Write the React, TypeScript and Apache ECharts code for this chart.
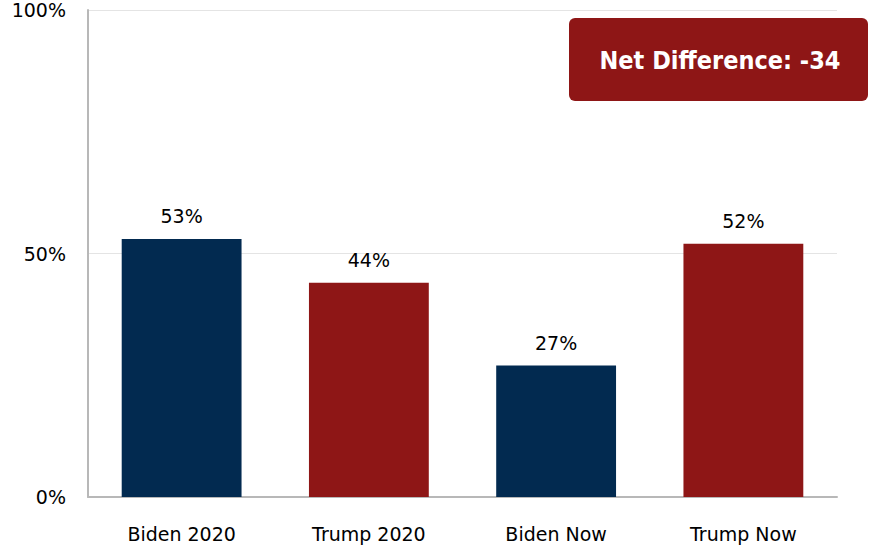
import React, { useEffect, useRef } from "react";
import * as echarts from "echarts";

const categories = ["Biden 2020", "Trump 2020", "Biden Now", "Trump Now"];
const values = [53, 44, 27, 52];
const barColors = ["#022a50", "#8e1616", "#022a50", "#8e1616"];
const yTicks = [0, 50, 100];
const netDifferenceText = "Net Difference: -34";

const FONT = "Tahoma, 'DejaVu Sans', Verdana, sans-serif";
const BOX_FONT = "'DejaVu Sans Condensed', Tahoma, 'DejaVu Sans', sans-serif";

export default function App() {
  const ref = useRef<HTMLDivElement>(null);
  useEffect(() => {
    document.body.style.margin = "0";
    const chart = echarts.init(ref.current!, undefined, { renderer: "svg" });
    chart.setOption({
      animation: false,
      backgroundColor: "#ffffff",
      grid: { left: 88, right: 38, top: 10, bottom: 50, containLabel: false },
      xAxis: {
        type: "category",
        data: categories,
        axisTick: { show: false },
        axisLine: { lineStyle: { color: "#b8b8b8", width: 2 } },
        axisLabel: { color: "#000", fontSize: 19, fontFamily: FONT, margin: 27 },
      },
      yAxis: {
        type: "value",
        min: yTicks[0],
        max: yTicks[yTicks.length - 1],
        interval: 50,
        axisLine: { show: true, lineStyle: { color: "#b8b8b8", width: 2 } },
        axisTick: { show: false },
        axisLabel: {
          color: "#000",
          fontSize: 19,
          fontFamily: FONT,
          margin: 22,
          formatter: "{value}%",
        },
        splitLine: { show: true, lineStyle: { color: "#e4e4e4", width: 1 } },
      },
      series: [
        {
          type: "bar",
          barWidth: "64%",
          data: values.map((v, i) => ({ value: v, itemStyle: { color: barColors[i] } })),
          label: {
            show: true,
            position: "top",
            distance: 13,
            color: "#000",
            fontSize: 19,
            fontFamily: FONT,
            formatter: "{c}%",
          },
        },
      ],
      graphic: [
        {
          type: "rect",
          left: 569,
          top: 18,
          shape: { width: 299, height: 83, r: 6 },
          style: { fill: "#8e1616" },
        },
        {
          type: "text",
          x: 720,
          y: 60,
          style: {
            text: netDifferenceText,
            fill: "#ffffff",
            font: `bold 25px ${BOX_FONT}`,
            align: "center",
            verticalAlign: "middle",
          },
        },
      ],
    });
    return () => chart.dispose();
  }, []);
  return <div ref={ref} style={{ width: 875, height: 547 }} />;
}
